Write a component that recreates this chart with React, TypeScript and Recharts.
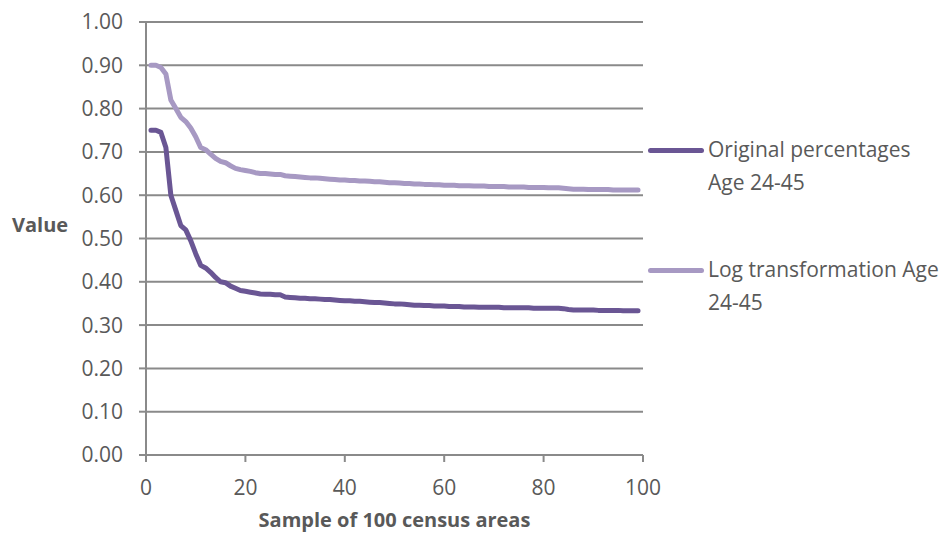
import {
  CartesianGrid,
  Line,
  LineChart,
  XAxis,
  YAxis,
} from "recharts";

// values, samples 1..99
const originalPct = [
  0.75, 0.75, 0.745, 0.71, 0.6, 0.565, 0.53, 0.52, 0.495, 0.465,
  0.438, 0.432, 0.422, 0.41, 0.4, 0.398, 0.39, 0.385, 0.38, 0.378,
  0.376, 0.374, 0.372, 0.371, 0.371, 0.37, 0.37, 0.365, 0.364, 0.363,
  0.362, 0.362, 0.361, 0.361, 0.36, 0.359, 0.359, 0.358, 0.357, 0.356,
  0.356, 0.355, 0.355, 0.354, 0.353, 0.352, 0.352, 0.351, 0.35, 0.349,
  0.349, 0.348, 0.347, 0.346, 0.346, 0.345, 0.345, 0.344, 0.344, 0.344,
  0.343, 0.343, 0.343, 0.342, 0.342, 0.342, 0.341, 0.341, 0.341, 0.341,
  0.341, 0.34, 0.34, 0.34, 0.34, 0.34, 0.34, 0.339, 0.339, 0.339,
  0.339, 0.339, 0.339, 0.338, 0.336, 0.335, 0.335, 0.335, 0.335, 0.335,
  0.334, 0.334, 0.334, 0.334, 0.334, 0.333, 0.333, 0.333, 0.333,
];

const logTransform = [
  0.9, 0.9, 0.895, 0.88, 0.82, 0.8, 0.78, 0.77, 0.755, 0.735,
  0.71, 0.705, 0.695, 0.685, 0.678, 0.675, 0.668, 0.662, 0.659, 0.657,
  0.655, 0.652, 0.65, 0.65, 0.649, 0.648, 0.648, 0.645, 0.644, 0.643,
  0.642, 0.641, 0.64, 0.64, 0.639, 0.638, 0.637, 0.636, 0.635, 0.635,
  0.634, 0.634, 0.633, 0.633, 0.632, 0.631, 0.631, 0.63, 0.629, 0.629,
  0.628, 0.627, 0.627, 0.626, 0.626, 0.625, 0.625, 0.624, 0.624, 0.623,
  0.623, 0.623, 0.622, 0.622, 0.622, 0.621, 0.621, 0.621, 0.62, 0.62,
  0.62, 0.62, 0.619, 0.619, 0.619, 0.619, 0.618, 0.618, 0.618, 0.618,
  0.617, 0.617, 0.617, 0.616, 0.615, 0.614, 0.614, 0.614, 0.613, 0.613,
  0.613, 0.613, 0.613, 0.612, 0.612, 0.612, 0.612, 0.612, 0.612,
];

const xTicks = [0, 20, 40, 60, 80, 100];
const yTicks = [0, 0.1, 0.2, 0.3, 0.4, 0.5, 0.6, 0.7, 0.8, 0.9, 1.0];

const SERIES = [
  { key: "orig", label: ["Original percentages", "Age 24-45"], color: "#6a5694" },
  { key: "log", label: ["Log transformation Age", "24-45"], color: "#a799c3" },
];

const data = originalPct.map((v, i) => ({
  x: i + 1,
  orig: v,
  log: logTransform[i],
}));

const FONT = "'Open Sans', sans-serif";
const TEXT = "#595959";
const GRID = "#8a8a8a";

// legend sits to the right of the plot, drawn as plain html
function LegendBox() {
  return (
    <div
      style={{
        position: "absolute",
        left: 648,
        top: 133,
        width: 292,
        fontFamily: FONT,
        fontSize: 21,
        color: TEXT,
        lineHeight: "33px",
        whiteSpace: "nowrap",
      }}
    >
      {SERIES.map((s, i) => (
        <div
          key={s.key}
          style={{ display: "flex", alignItems: "flex-start", marginTop: i ? 54 : 0 }}
        >
          <div
            style={{
              width: 56,
              height: 5,
              borderRadius: 3,
              background: s.color,
              marginTop: 15,
              marginRight: 4,
              flexShrink: 0,
            }}
          />
          <div>
            {s.label.map((t) => (
              <div key={t}>{t}</div>
            ))}
          </div>
        </div>
      ))}
    </div>
  );
}

export default function App() {
  return (
    <div
      style={{
        position: "absolute",
        left: 0,
        top: 0,
        width: 940,
        height: 534,
        overflow: "hidden",
        background: "#fff",
      }}
    >
      <LineChart
        width={940}
        height={534}
        data={data}
        margin={{ top: 22, right: 297, bottom: 49, left: 0 }}
      >
        <CartesianGrid vertical={false} stroke={GRID} strokeWidth={2} />
        <XAxis
          type="number"
          dataKey="x"
          domain={[0, 100]}
          ticks={xTicks}
          interval={0}
          stroke={GRID}
          strokeWidth={2}
          tickSize={7}
          tickMargin={18}
          tick={{ fill: TEXT, fontSize: 21, fontFamily: FONT }}
          label={{
            value: "Sample of 100 census areas",
            position: "insideBottom",
            offset: -42,
            fill: TEXT,
            fontSize: 20,
            fontWeight: 700,
            fontFamily: FONT,
          }}
        />
        <YAxis
          width={146}
          domain={[0, 1]}
          ticks={yTicks}
          interval={0}
          stroke={GRID}
          strokeWidth={2}
          tickSize={7}
          tickMargin={16}
          tickFormatter={(v: number) => v.toFixed(2)}
          tick={{ fill: TEXT, fontSize: 21, fontFamily: FONT }}
          label={{
            value: "Value",
            position: "insideLeft",
            offset: 12,
            dy: -14,
            fill: TEXT,
            fontSize: 20,
            fontWeight: 700,
            fontFamily: FONT,
          }}
        />
        {SERIES.map((s) => (
          <Line
            key={s.key}
            dataKey={s.key}
            stroke={s.color}
            strokeWidth={5}
            dot={false}
            type="linear"
            strokeLinecap="round"
            strokeLinejoin="round"
            isAnimationActive={false}
          />
        ))}
      </LineChart>
      <LegendBox />
    </div>
  );
}
